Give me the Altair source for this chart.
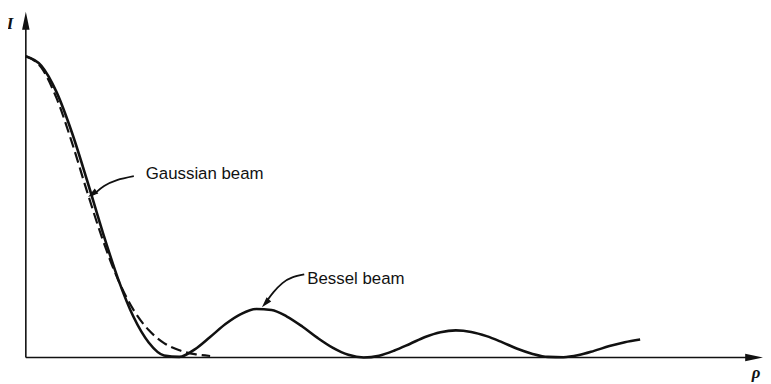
import altair as alt
import pandas as pd

# ---- data (arbitrary units) ----
rho_bessel = [0.0, 0.25, 0.5, 0.75, 1.0, 1.25, 1.5, 1.75, 2.0, 2.25, 2.5, 2.75,
              3.0, 3.25, 3.5, 3.75, 4.0, 4.25, 4.5, 4.75, 5.0, 5.25, 5.5, 5.75,
              6.0, 6.25, 6.5, 6.75, 7.0, 7.25, 7.5, 7.75, 8.0, 8.25, 8.5, 8.75,
              9.0, 9.25, 9.5, 9.75, 10.0]
i_bessel = [1.000, 0.969, 0.881, 0.747, 0.586, 0.417, 0.262, 0.136, 0.050, 0.007,
            0.002, 0.027, 0.068, 0.111, 0.144, 0.161, 0.158, 0.136, 0.103, 0.065,
            0.032, 0.009, 0.000, 0.006, 0.023, 0.045, 0.068, 0.084, 0.090, 0.085,
            0.071, 0.051, 0.029, 0.012, 0.002, 0.001, 0.008, 0.022, 0.038, 0.051,
            0.060]

rho_gauss = [0.0, 0.25, 0.5, 0.75, 1.0, 1.25, 1.5, 1.75, 2.0, 2.25, 2.5, 2.75, 3.0]
i_gauss = [1.000, 0.963, 0.861, 0.714, 0.549, 0.392, 0.259, 0.159, 0.091, 0.048,
           0.024, 0.011, 0.005]

# annotation texts and their anchors
label_text = ["Gaussian beam", "Bessel beam"]
label_rho = [1.952, 4.581]
label_i = [0.592, 0.243]

# annotation leader curves
g_arrow_rho = [1.758, 1.484, 1.274, 1.129, 1.085]
g_arrow_i = [0.602, 0.589, 0.569, 0.546, 0.540]
b_arrow_rho = [4.532, 4.339, 4.177, 4.032, 3.935]
b_arrow_i = [0.276, 0.266, 0.247, 0.217, 0.191]

# arrow heads (annotation + axes)
head_rho = [1.082, 3.900]
head_i = [0.5425, 0.180]
head_angle = [234.5, 222.3]
axis_head_rho = [0.0, 11.855]
axis_head_i = [1.118, 0.0]
axis_head_angle = [0, 90]

# axis symbols
sym_text = ["I", "ρ"]
sym_rho = [-0.258, 11.887]
sym_i = [1.092, -0.069]

XMAX = 12.0
YMAX = 350 / 304

xs = alt.Scale(domain=[0, XMAX], nice=False, zero=False)
ys = alt.Scale(domain=[0, YMAX], nice=False, zero=False)


def X(f):
    return alt.X(f, type="quantitative", scale=xs, axis=None)


def Y(f):
    return alt.Y(f, type="quantitative", scale=ys, axis=None)


bessel_df = pd.DataFrame({"rho": rho_bessel, "I": i_bessel})
gauss_df = pd.DataFrame({"rho": rho_gauss, "I": i_gauss})
labels_df = pd.DataFrame({"rho": label_rho, "I": label_i, "t": label_text})
arrows_df = pd.DataFrame({
    "rho": g_arrow_rho + b_arrow_rho,
    "I": g_arrow_i + b_arrow_i,
    "k": list(range(len(g_arrow_rho))) + list(range(len(b_arrow_rho))),
    "g": ["g"] * len(g_arrow_rho) + ["b"] * len(b_arrow_rho),
})
heads_df = pd.DataFrame({"rho": head_rho, "I": head_i, "a": head_angle})
axis_heads_df = pd.DataFrame({"rho": axis_head_rho, "I": axis_head_i, "a": axis_head_angle})
axes_df = pd.DataFrame({
    "x1": [0.0, 0.0], "x2": [0.0, axis_head_rho[1]],
    "y1": [0.0, 0.0], "y2": [axis_head_i[0], 0.0],
})
sym_df = pd.DataFrame({"rho": sym_rho, "I": sym_i, "t": sym_text})

axes = alt.Chart(axes_df).mark_rule(color="#111", strokeWidth=1.6).encode(
    x=X("x1"), x2="x2", y=Y("y1"), y2="y2")

axis_heads = alt.Chart(axis_heads_df).mark_point(
    shape="M0,-1L0.42,1L-0.42,1Z", filled=True, color="#111", opacity=1, size=324
).encode(x=X("rho"), y=Y("I"), angle=alt.Angle("a:Q", scale=None))

bessel = alt.Chart(bessel_df).mark_line(
    color="#111", strokeWidth=2.6, interpolate="monotone"
).encode(x=X("rho"), y=Y("I"))

gauss = alt.Chart(gauss_df).mark_line(
    color="#111", strokeWidth=2.2, strokeDash=[11, 5], interpolate="monotone"
).encode(x=X("rho"), y=Y("I"))

arrows = alt.Chart(arrows_df).mark_line(
    color="#111", strokeWidth=1.8, interpolate="natural"
).encode(x=X("rho"), y=Y("I"), order=alt.Order("k:Q"), detail="g:N")

heads = alt.Chart(heads_df).mark_point(
    shape="M0,-1L0.6,1L-0.6,1Z", filled=True, color="#111", opacity=1, size=110
).encode(x=X("rho"), y=Y("I"), angle=alt.Angle("a:Q", scale=None))

labels = alt.Chart(labels_df).mark_text(
    align="left", baseline="alphabetic", font="Liberation Sans", fontSize=17, color="#111"
).encode(x=X("rho"), y=Y("I"), text="t:N")

syms = alt.Chart(sym_df).mark_text(
    align="center", baseline="alphabetic", font="Liberation Serif", fontSize=17,
    fontStyle="italic", fontWeight="bold", color="#111"
).encode(x=X("rho"), y=Y("I"), text="t:N")

chart = alt.layer(axes, axis_heads, gauss, bessel, arrows, heads, labels, syms).properties(
    width=744, height=350,
    autosize=alt.AutoSizeParams(type="none"),
    padding={"left": 18, "top": 1, "right": 0, "bottom": 25},
    background="white",
).configure_view(stroke=None)

chart.save("out.html", embed_options={"renderer": "svg", "actions": False})
